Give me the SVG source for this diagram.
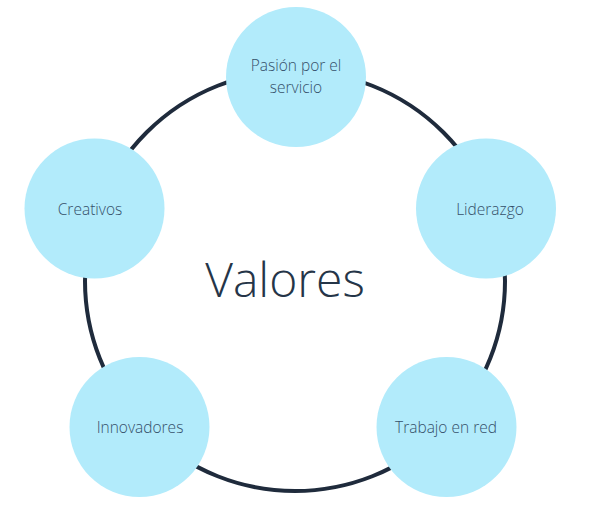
<svg xmlns="http://www.w3.org/2000/svg" width="591" height="516" viewBox="0 0 591 516">
<style>
.node{fill:#b2ebfb;}
.lbl{font-family:"Open Sans","Liberation Sans",sans-serif;font-weight:300;font-size:15.5px;fill:#35506a;text-anchor:middle;}
.title{font-family:"Open Sans","Liberation Sans",sans-serif;font-weight:300;font-size:48px;fill:#253548;text-anchor:middle;}
</style>
<rect width="591" height="516" fill="#ffffff"/>
<g id="connectors">
<circle cx="295" cy="281" r="210" fill="none" stroke="#1f2b3c" stroke-width="4"/>
</g>
<text class="title" x="285" y="297">Valores</text>
<g id="n1"><circle class="node" cx="296" cy="77" r="70"/><text class="lbl" x="296" y="71">Pasión por el</text><text class="lbl" x="296" y="93">servicio</text></g>
<g id="n2"><circle class="node" cx="486" cy="208.5" r="70"/><text class="lbl" x="490" y="215">Liderazgo</text></g>
<g id="n3"><circle class="node" cx="446.5" cy="427" r="70"/><text class="lbl" x="446" y="433">Trabajo en red</text></g>
<g id="n4"><circle class="node" cx="139.5" cy="427" r="70"/><text class="lbl" x="140" y="433">Innovadores</text></g>
<g id="n5"><circle class="node" cx="94.5" cy="208.5" r="70"/><text class="lbl" x="90" y="215">Creativos</text></g>
</svg>
